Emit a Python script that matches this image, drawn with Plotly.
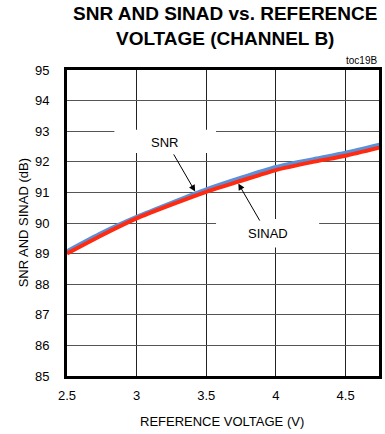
import plotly.graph_objects as go

# Reference voltage sweep (V) and measured dynamic performance (dB)
ref_voltage = [2.5, 2.75, 3.0, 3.25, 3.5, 3.75, 4.0, 4.25, 4.5, 4.75]
snr_db = [89.08, 89.68, 90.20, 90.66, 91.10, 91.48, 91.83, 92.07, 92.30, 92.57]
sinad_db = [89.00, 89.60, 90.15, 90.60, 91.02, 91.38, 91.73, 91.98, 92.20, 92.47]

x_ticks = [2.5, 3, 3.5, 4, 4.5]
x_tick_text = ["2.5", "3", "3.5", "4", "4.5"]
y_ticks = [85, 86, 87, 88, 89, 90, 91, 92, 93, 94, 95]

FONT = "Arial, Liberation Sans, Helvetica, sans-serif"

fig = go.Figure()
fig.add_trace(go.Scatter(
    x=ref_voltage, y=snr_db, mode="lines", name="SNR",
    line=dict(color="#5b8fd8", width=4, shape="spline", smoothing=0.6),
))
fig.add_trace(go.Scatter(
    x=ref_voltage, y=sinad_db, mode="lines", name="SINAD",
    line=dict(color="#ff2a10", width=4, shape="spline", smoothing=0.6),
))

# White label panels that interrupt the grid behind the curve labels
for x0, x1, y0, y1 in [(2.84, 3.57, 92.29, 93.05), (3.57, 4.31, 89.2, 90.13)]:
    fig.add_shape(type="rect", xref="x", yref="y", x0=x0, x1=x1, y0=y0, y1=y1,
                  fillcolor="white", line=dict(width=0), layer="between")

annotations = [
    dict(text="SNR", x=3.20, y=92.63, xref="x", yref="y", showarrow=False,
         font=dict(size=13, color="black", family=FONT)),
    dict(text="", x=3.42, y=91.03, ax=3.26, ay=92.29, xref="x", yref="y",
         axref="x", ayref="y", showarrow=True, arrowhead=2, arrowsize=1.3,
         arrowwidth=1, arrowcolor="black"),
    dict(text="SINAD", x=3.94, y=89.67, xref="x", yref="y", showarrow=False,
         font=dict(size=13, color="black", family=FONT)),
    dict(text="", x=3.73, y=91.29, ax=3.89, ay=90.03, xref="x", yref="y",
         axref="x", ayref="y", showarrow=True, arrowhead=2, arrowsize=1.3,
         arrowwidth=1, arrowcolor="black"),
    dict(text="<b>SNR AND SINAD vs. REFERENCE<br>VOLTAGE (CHANNEL B)</b>",
         x=0.506, y=1.145, xref="paper", yref="paper", showarrow=False,
         xanchor="center", yanchor="middle", align="center",
         font=dict(size=19, color="black", family=FONT)),
    dict(text="toc19B", x=1.0, y=1.005, xref="paper", yref="paper",
         showarrow=False, xanchor="right", yanchor="bottom",
         font=dict(size=10, color="black", family=FONT)),
    dict(text="SNR AND SINAD (dB)", x=-0.14, y=0.5, xref="paper", yref="paper",
         showarrow=False, textangle=-90, xanchor="center", yanchor="middle",
         font=dict(size=13, color="black", family=FONT)),
    dict(text="REFERENCE VOLTAGE (V)", x=0.497, y=-0.150, xref="paper",
         yref="paper", showarrow=False, xanchor="center", yanchor="middle",
         font=dict(size=13, color="black", family=FONT)),
]

fig.update_layout(
    width=385, height=434,
    margin=dict(l=67, r=3, t=70, b=58),
    paper_bgcolor="white", plot_bgcolor="white",
    showlegend=False,
    font=dict(family=FONT, size=13, color="black"),
    annotations=annotations,
)
fig.update_xaxes(
    range=[2.5, 4.74], tickvals=x_ticks, ticktext=x_tick_text,
    showgrid=True, gridcolor="#222222", gridwidth=1.2,
    showline=True, linecolor="black", linewidth=3, mirror=True,
    ticks="", ticklabelstandoff=5, zeroline=False,
    tickfont=dict(size=13, color="black", family=FONT),
)
fig.update_yaxes(
    range=[85, 95], tickvals=y_ticks,
    showgrid=True, gridcolor="#555555", gridwidth=1.2,
    showline=True, linecolor="black", linewidth=3, mirror=True,
    ticks="", ticklabelstandoff=12, zeroline=False,
    tickfont=dict(size=13, color="black", family=FONT),
)

fig.write_html("out.html")
